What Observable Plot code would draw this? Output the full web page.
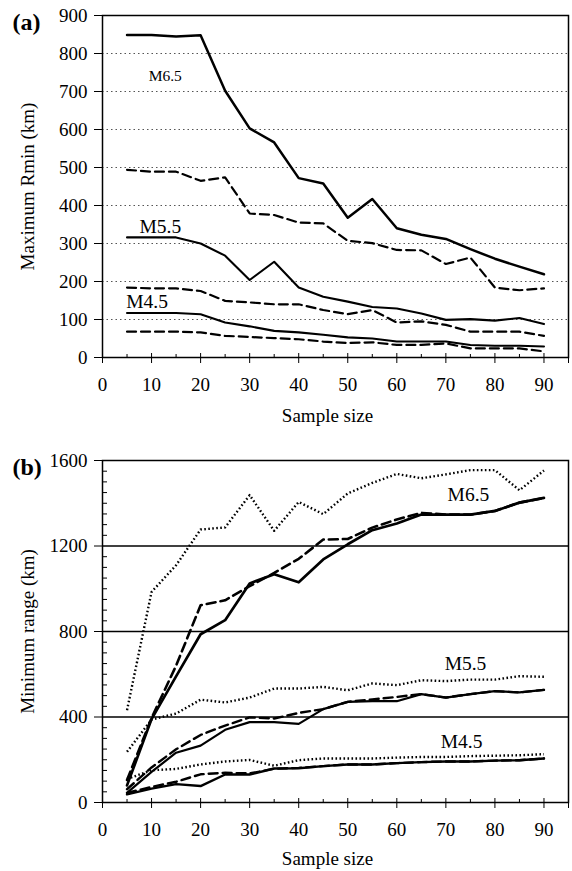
<!DOCTYPE html>
<html><head><meta charset="utf-8">
<script src="https://cdn.jsdelivr.net/npm/d3@7"></script>
<script src="https://cdn.jsdelivr.net/npm/@observablehq/plot@0.6"></script>
<style>
html,body{margin:0;padding:0;background:#fff;}
#chart{position:relative;width:572px;height:871px;}
#chart svg{display:block;font-family:"Liberation Serif","Times New Roman",serif !important;}
#chart svg text{font-family:"Liberation Serif","Times New Roman",serif !important;}
</style></head><body><div id="chart"></div>
<script>
// ---------- data ----------
const sampleSizes = [5,10,15,20,25,30,35,40,45,50,55,60,65,70,75,80,85,90];
const xTicks = [0,10,20,30,40,50,60,70,80,90];
const xMinorTicks = [5,15,25,35,45,55,65,75,85];
const aYTicks = [0,100,200,300,400,500,600,700,800,900];
const aGridTicks = [100,200,300,400,500,600,700,800];
const bYTicks = [0,400,800,1200,1600];
const bMinorTicks = [50,100,150,200,250,300,350,450,500,550,600,650,700,750,850,900,950,1000,1050,1100,1150,1250,1300,1350,1400,1450,1500,1550];
const bGridTicks = [400,800,1200];

// panel (a): Maximum Rmin (km)
const aM65Solid  = [849,849,845,848,702,603,566,472,458,368,417,340,323,312,285,260,239,219];
const aM65Dashed = [494,489,489,465,474,379,375,355,353,307,301,283,282,246,263,184,177,182];
const aM55Solid  = [316,316,316,300,268,204,252,184,160,147,133,129,116,99,101,97,104,88];
const aM55Dashed = [184,182,182,175,149,145,140,140,125,114,125,92,95,86,68,68,68,57];
const aM45Solid  = [117,117,117,114,92,82,70,66,60,53,50,42,42,42,33,31,31,29];
const aM45Dashed = [68,68,68,66,57,54,51,48,42,38,40,33,33,37,24,24,24,16];

// panel (b): Minimum range (km)
const bM65Dotted = [432,985,1110,1277,1287,1438,1271,1406,1349,1446,1495,1537,1517,1535,1555,1555,1461,1553];
const bM65Dashed = [105,395,640,923,946,1012,1074,1140,1230,1233,1286,1324,1355,1347,1347,1364,1403,1425];
const bM65Solid  = [80,390,590,787,853,1025,1068,1030,1137,1208,1274,1305,1347,1347,1347,1364,1403,1425];
const bM55Dotted = [237,388,416,481,468,491,533,533,541,525,557,549,572,568,575,575,591,588];
const bM55Dashed = [62,164,249,316,360,398,393,419,437,471,482,494,507,491,507,521,515,527];
const bM55Solid  = [45,143,233,266,340,376,376,368,437,471,474,474,507,491,507,521,515,527];
const bM45Dotted = [110,151,157,178,192,199,172,198,206,206,206,210,213,213,217,219,221,226];
const bM45Dashed = [45,73,97,132,139,136,158,162,170,178,178,184,189,192,192,196,198,206];
const bM45Solid  = [38,65,86,77,131,131,159,160,170,178,178,184,189,192,192,196,198,206];

const aLabels = [
  {text: "M6.5", x: 12.8, y: 741, size: 15.5},
  {text: "M5.5", x: 11.8, y: 343, size: 19.5},
  {text: "M4.5", x: 9.1, y: 147, size: 19.5}
];
const bLabels = [
  {text: "M6.5", x: 74.6, y: 1439},
  {text: "M5.5", x: 74.0, y: 650},
  {text: "M4.5", x: 73.2, y: 282}
];

// ---------- helpers ----------
const serif = "Liberation Serif";
const rows = arr => sampleSizes.map((x, i) => ({x, y: arr[i]}));
const solid = (arr, w) => Plot.line(rows(arr), {x: "x", y: "y", stroke: "#000", strokeWidth: w});
const dashed = (arr, w) => Plot.line(rows(arr), {x: "x", y: "y", stroke: "#000", strokeWidth: w, strokeDasharray: "9,5"});
const dotted = (arr, w) => Plot.line(rows(arr), {x: "x", y: "y", stroke: "#000", strokeWidth: w, strokeDasharray: "1.6,2.4", strokeLinecap: "butt"});
const fmt = d => String(d);

function xAxes() {
  return [
    Plot.axisX({ticks: xTicks, tickSize: 6, tickPadding: 14, label: null, fontSize: 19, fontFamily: serif, tickFormat: fmt}),
    Plot.axisX({ticks: xTicks, tickSize: 4, dy: -4, fill: "none", label: null}),
    Plot.axisX({ticks: xMinorTicks, tickSize: 3, dy: -3, fill: "none", label: null}),
    Plot.axisX({ticks: [95], tickSize: 6, fill: "none", label: null})
  ];
}
function titles(panel, ytitle, xdy) {
  return [
    Plot.text([panel], {text: d => d, frameAnchor: "top-left", dx: -90, dy: 7, textAnchor: "start", lineAnchor: "middle", fontWeight: "bold", fontSize: 24, fontFamily: serif}),
    Plot.text([ytitle], {text: d => d, frameAnchor: "left", dx: -75, rotate: -90, textAnchor: "middle", lineAnchor: "middle", fontSize: 19, fontFamily: serif}),
    Plot.text(["Sample size"], {text: d => d, frameAnchor: "bottom", dx: -8, dy: xdy, textAnchor: "middle", lineAnchor: "middle", fontSize: 19, fontFamily: serif})
  ];
}

// ---------- panel (a) ----------
const plotA = Plot.plot({
  width: 572, height: 435,
  marginTop: 15, marginBottom: 78, marginLeft: 102, marginRight: 4,
  style: {fontFamily: serif, fontSize: "19px", color: "#000", background: "#fff"},
  x: {domain: [0, 95]},
  y: {domain: [0, 900]},
  marks: [
    Plot.gridY(aGridTicks, {stroke: "#555", strokeOpacity: 1, strokeWidth: 1.2, strokeDasharray: "1.5,3"}),
    Plot.axisY({ticks: aYTicks, tickSize: 8, tickPadding: 7, label: null, fontSize: 19, fontFamily: serif, tickFormat: fmt}),
    ...xAxes(),
    Plot.frame({stroke: "#000", strokeWidth: 1.5}),
    solid(aM65Solid, 2.5), dashed(aM65Dashed, 2.2),
    solid(aM55Solid, 2.1), dashed(aM55Dashed, 2.2),
    solid(aM45Solid, 2.1), dashed(aM45Dashed, 2.2),
    Plot.text(aLabels, {x: "x", y: "y", text: "text", fontSize: d => d.size, fill: "#000", fontFamily: serif}),
    ...titles("(a)", "Maximum Rmin (km)", 58)
  ]
});

// ---------- panel (b) ----------
const plotB = Plot.plot({
  width: 572, height: 436,
  marginTop: 25, marginBottom: 69, marginLeft: 102, marginRight: 4,
  style: {fontFamily: serif, fontSize: "19px", color: "#000", background: "#fff"},
  x: {domain: [0, 95]},
  y: {domain: [0, 1600]},
  marks: [
    Plot.gridY(bGridTicks, {stroke: "#000", strokeOpacity: 1, strokeWidth: 1.3}),
    Plot.axisY({ticks: bYTicks, tickSize: 8, tickPadding: 7, label: null, fontSize: 19, fontFamily: serif, tickFormat: fmt}),
    Plot.axisY({ticks: bMinorTicks, tickSize: 5, dx: 5, fill: "none", label: null}),
    ...xAxes(),
    Plot.frame({stroke: "#000", strokeWidth: 1.5}),
    dotted(bM65Dotted, 2.4), dashed(bM65Dashed, 2.6), solid(bM65Solid, 2.7),
    dotted(bM55Dotted, 2.4), dashed(bM55Dashed, 2.4), solid(bM55Solid, 2.2),
    dotted(bM45Dotted, 2.4), dashed(bM45Dashed, 2.4), solid(bM45Solid, 2.4),
    Plot.text(bLabels, {x: "x", y: "y", text: "text", fontSize: 19.5, fill: "#000", fontFamily: serif}),
    ...titles("(b)", "Minimum range (km)", 56)
  ]
});

const chart = document.getElementById("chart");
chart.appendChild(plotA);
chart.appendChild(plotB);
</script>
</body></html>
